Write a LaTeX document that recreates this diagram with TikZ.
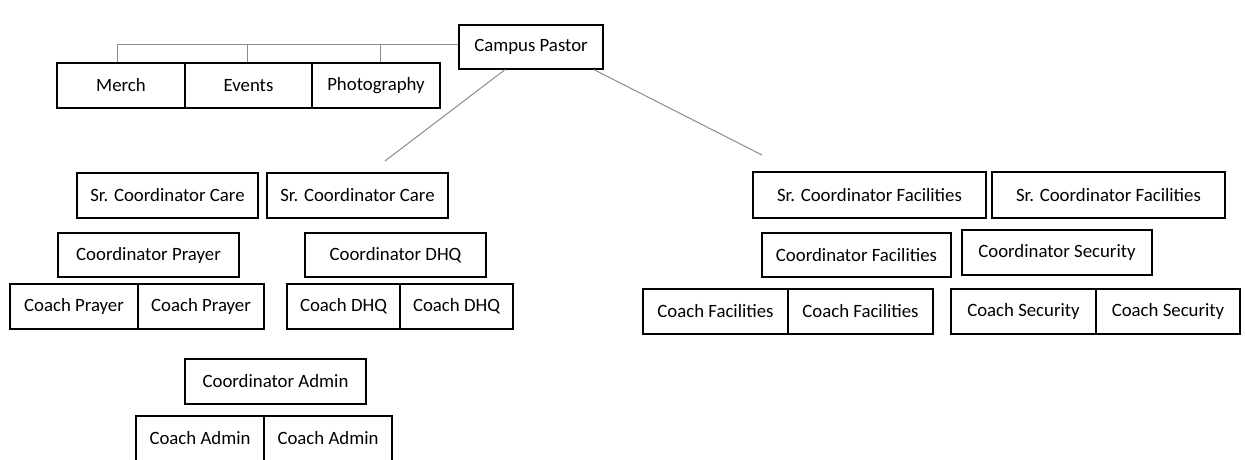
\documentclass[tikz,border=0pt]{standalone}
\usepackage{fontspec}
\setmainfont{Carlito}
\begin{document}
\begin{tikzpicture}[x=1pt,y=-1pt,
  box/.style={draw=black, line width=1.3pt, inner sep=0pt, font=\fontsize{18.8}{22}\selectfont, text=black},
  conn/.style={draw=black!45, line width=1pt}]
\useasboundingbox (0,0) rectangle (1245,459);
\newcommand{\bx}[6]{\node[box, minimum width={(#4-#2)*1pt}, minimum height={(#5-#3)*1pt}] (#1) at ({(#2+#4)/2},{(#3+#5)/2}) {#6};}
% top
\bx{cp}{459}{25}{603}{69}{Campus Pastor}
\bx{merch}{57}{63}{185}{108}{Merch}
\bx{events}{185}{63}{312}{108}{Events}
\bx{photo}{312}{63}{440}{108}{Photography}
% care
\bx{scc1}{77}{173}{258}{218}{Sr. Coordinator Care}
\bx{scc2}{267}{173}{448}{218}{Sr. Coordinator Care}
\bx{cpray}{58}{233}{239}{277}{Coordinator Prayer}
\bx{cdhq}{305}{233}{486}{277}{Coordinator DHQ}
\bx{kp1}{10}{284}{138}{329}{Coach Prayer}
\bx{kp2}{138}{284}{264}{329}{Coach Prayer}
\bx{kd1}{287}{284}{400}{329}{Coach DHQ}
\bx{kd2}{400}{284}{513}{329}{Coach DHQ}
\bx{cadm}{185}{359}{366}{404}{Coordinator Admin}
\bx{ka1}{136}{416}{264}{461}{Coach Admin}
\bx{ka2}{264}{416}{392}{461}{Coach Admin}
% facilities
\bx{scf1}{753}{172}{986}{218}{Sr. Coordinator Facilities}
\bx{scf2}{992}{172}{1225}{218}{Sr. Coordinator Facilities}
\bx{cfac}{762}{233}{951}{277}{Coordinator Facilities}
\bx{csec}{962}{230}{1152}{275}{Coordinator Security}
\bx{kf1}{643}{289}{788}{334}{Coach Facilities}
\bx{kf2}{788}{289}{933}{334}{Coach Facilities}
\bx{ks1}{951}{289}{1096}{334}{Coach Security}
\bx{ks2}{1096}{289}{1240}{334}{Coach Security}
% connectors
\draw[conn] ([yshift=3pt]cp.west) -| ([xshift=-4pt]merch.north);
\draw[conn] ([yshift=3pt]cp.west) -| ([xshift=-1.5pt]events.north);
\draw[conn] ([yshift=3pt]cp.west) -| ([xshift=4pt]photo.north);
\coordinate (lend) at (385,161);
\coordinate (rend) at (762,155);
\draw[conn] ([xshift=-26pt]cp.south) -- (lend);
\draw[conn] ([xshift=63pt]cp.south) -- (rend);
\end{tikzpicture}
\end{document}
